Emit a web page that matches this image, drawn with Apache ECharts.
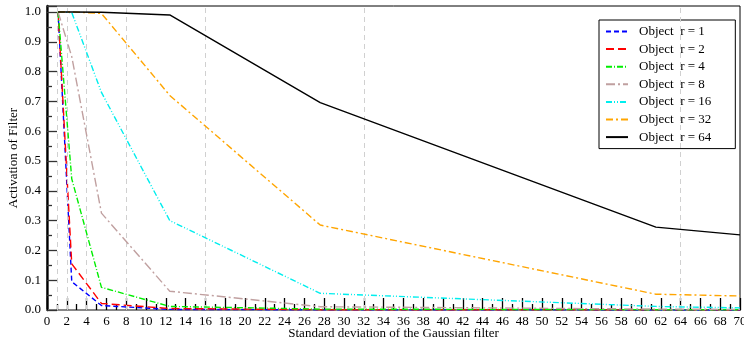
<!DOCTYPE html>
<html>
<head>
<meta charset="utf-8">
<script src="https://cdn.jsdelivr.net/npm/echarts@6/dist/echarts.min.js"></script>
<style>
html,body{margin:0;padding:0;background:#fff;}
#chart{width:744px;height:345px;}
</style>
</head>
<body>
<div id="chart"></div>
<script>
// ---- data ----
const sigmaX = [1.12, 2.5, 5.5, 12.4, 27.6, 61.5, 70];
const r1  = [1.0, 0.095, 0.015, 0.002, 0.0005, 0.0002, 0.0002];
const r2  = [1.0, 0.155, 0.022, 0.005, 0.001, 0.0005, 0.0005];
const r4  = [1.0, 0.44, 0.076, 0.012, 0.003, 0.001, 0.001];
const r8  = [1.0, 0.85, 0.325, 0.063, 0.011, 0.003, 0.002];
const r16 = [1.0, 0.998, 0.73, 0.30, 0.056, 0.012, 0.007];
const r32 = [1.0, 1.0, 0.995, 0.72, 0.285, 0.053, 0.047];
const r64 = [1.0, 1.0, 0.999, 0.99, 0.696, 0.278, 0.252];
const seriesNames = ['Object  r = 1','Object  r = 2','Object  r = 4','Object  r = 8','Object  r = 16','Object  r = 32','Object  r = 64'];
const gridX = [1, 2, 4, 8, 16, 32, 64];
const xTitle = 'Standard deviation of the Gaussian filter';
const yTitle = 'Activation of Filter';

const values = [r1, r2, r4, r8, r16, r32, r64];
const colors = ['#0000ff', '#ff0000', '#00ee00', '#c0a0a0', '#00eeee', '#ffa500', '#000000'];
const dashes = [[5,3], [8,4], [6,2,1,2], [9,3,2,3], [6,2,1,2,1,2], [7,3,2,3], 'solid'];
const FONT = 'Liberation Serif';

const series = values.map((v, i) => ({
  name: seriesNames[i],
  type: 'line',
  data: sigmaX.map((x, j) => [x, v[j]]),
  symbol: 'none',
  showSymbol: false,
  z: 3 + i,
  lineStyle: { color: colors[i], width: 1.4, type: dashes[i] },
  itemStyle: { color: colors[i] }
}));
series.push({
  name: '_grid',
  type: 'line',
  data: [],
  silent: true,
  z: 1,
  markLine: {
    silent: true,
    symbol: 'none',
    label: { show: false },
    lineStyle: { color: '#d0d0d0', type: [5, 4], width: 1 },
    data: gridX.map(x => ({ xAxis: x }))
  }
});

const chart = echarts.init(document.getElementById('chart'), null, { renderer: 'canvas' });
chart.setOption({
  animation: false,
  backgroundColor: '#fff',
  textStyle: { fontFamily: FONT },
  grid: { left: 47, right: 4, top: 6, bottom: 35, containLabel: false, outerBoundsMode: 'none',
    show: true, borderColor: '#000', borderWidth: 1, backgroundColor: 'transparent' },
  legend: {
    data: seriesNames,
    orient: 'vertical',
    left: 599,
    top: 20,
    itemWidth: 22,
    itemHeight: 14,
    itemGap: 4.6,
    padding: [5, 24, 5, 6],
    backgroundColor: '#fff',
    borderColor: '#000',
    borderWidth: 1,
    borderRadius: 0,
    itemStyle: { opacity: 0 },
    textStyle: { fontFamily: FONT, fontSize: 13, color: '#000', padding: [0, 0, 0, 6] }
  },
  xAxis: [{
    type: 'value',
    min: 0, max: 70, interval: 2,
    name: xTitle,
    nameLocation: 'middle',
    nameGap: 17,
    nameMoveOverlap: false,
    nameTextStyle: { fontFamily: FONT, fontSize: 13, color: '#000' },
    axisLine: { show: true, lineStyle: { color: '#000', width: 2 } },
    axisTick: { show: true, inside: true, length: 12, lineStyle: { color: '#000', width: 1.3 } },
    minorTick: { show: true, splitNumber: 2, length: 6, lineStyle: { color: '#000', width: 1.3 } },
    splitLine: { show: false },
    axisLabel: { fontFamily: FONT, fontSize: 13, color: '#000', margin: 5 }
  }, {
    type: 'value', position: 'top',
    min: 0, max: 70,
    axisLine: { show: true, lineStyle: { color: '#888', width: 2 } },
    axisTick: { show: false }, axisLabel: { show: false }, splitLine: { show: false }
  }],
  yAxis: [{
    type: 'value',
    min: 0, max: 1.02, interval: 0.1,
    name: yTitle,
    nameLocation: 'middle',
    nameGap: 27,
    nameMoveOverlap: false,
    nameTextStyle: { fontFamily: FONT, fontSize: 13, color: '#000' },
    axisLine: { show: true, lineStyle: { color: '#222', width: 2.5 } },
    axisTick: { show: true, inside: true, length: 10, lineStyle: { color: '#333', width: 1.3 } },
    minorTick: { show: true, splitNumber: 2, length: 5, lineStyle: { color: '#333', width: 1.3 } },
    splitLine: { show: false },
    axisLabel: { fontFamily: FONT, fontSize: 13, color: '#000', margin: 6,
      formatter: v => v > 1.001 ? '' : v.toFixed(1) }
  }, {
    type: 'value', position: 'right',
    min: 0, max: 1.02,
    axisLine: { show: true, lineStyle: { color: '#000', width: 1 } },
    axisTick: { show: false }, axisLabel: { show: false }, splitLine: { show: false }
  }],
  series: series
});
</script>
</body>
</html>
